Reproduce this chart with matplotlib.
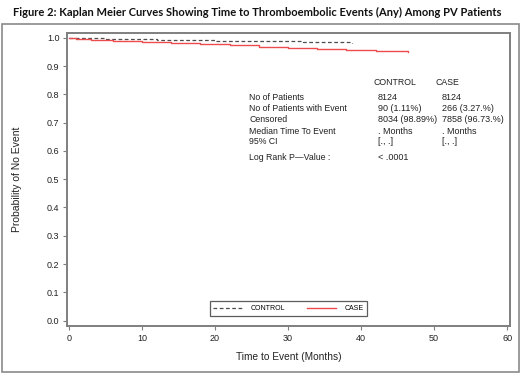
import numpy as np
import matplotlib.pyplot as plt
from matplotlib.patches import Rectangle

plt.rcParams['font.family'] = ['Liberation Sans', 'DejaVu Sans']

# Kaplan Meier estimates (months, survival)
control_t = [0, 2, 5, 8, 12, 16, 20, 24, 28, 32, 36, 38.8]
control_s = [1.0, 0.998, 0.996, 0.995, 0.993, 0.992, 0.990, 0.989, 0.987, 0.986, 0.984, 0.983]
case_t = [0, 1, 3, 6, 10, 14, 18, 22, 26, 30, 34, 38, 42, 46.4]
case_s = [1.0, 0.996, 0.993, 0.989, 0.985, 0.981, 0.977, 0.973, 0.969, 0.965, 0.961, 0.957, 0.953, 0.950]

x_ticks = [0, 10, 20, 30, 40, 50, 60]
y_ticks = [0.0, 0.1, 0.2, 0.3, 0.4, 0.5, 0.6, 0.7, 0.8, 0.9, 1.0]

# summary table
row_labels = ['No of Patients', 'No of Patients with Event', 'Censored',
              'Median Time To Event', '95% CI']
col_heads = ['CONTROL', 'CASE']
control_vals = ['8124', '90 (1.11%)', '8034 (98.89%)', '. Months', '[., .]']
case_vals = ['8124', '266 (3.27.%)', '7858 (96.73.%)', '. Months', '[., .]']
pval_label = 'Log Rank P\u2014Value :'
pval = '< .0001'

grey = '#7f7f7f'
txt = '#222222'

fig = plt.figure(figsize=(5.2, 3.73), dpi=100)
fig.patch.set_facecolor('white')

# outer frame around the chart
fig.patches.append(Rectangle((2/520, 1/373), 517/520, 348/373, transform=fig.transFigure,
                             fill=False, edgecolor='#8a8a8a', linewidth=1.2))

fig.text(0.5 - 3/520, 1 - 12/373, 'Figure 2: Kaplan Meier Curves Showing Time to Thromboembolic Events (Any) Among PV Patients',
         ha='center', va='center', fontsize=8.05, fontweight='bold', family='Lato', color='#111111')

ax = fig.add_axes([67/520, 47/373, 443/520, 293/373])
ax.step(control_t, control_s, where='post', color='#4d4d4d', linestyle=(0, (3, 2)),
        linewidth=0.9, label='CONTROL')
ax.step(case_t, case_s, where='post', color='#ee4c4c', linewidth=1.0, label='CASE')

ax.set_xlim(-0.27, 60.4)
ax.set_ylim(-0.019, 1.017)
ax.set_xticks(x_ticks)
ax.set_yticks(y_ticks)
ax.set_xticklabels([str(v) for v in x_ticks])
ax.set_yticklabels(['%.1f' % v for v in y_ticks])
ax.tick_params(labelsize=6.5, colors=grey, labelcolor=txt, length=3, width=0.8, pad=2.5)
for s in ax.spines.values():
    s.set_color(grey)
    s.set_linewidth(1.4)

ax.set_xlabel('Time to Event (Months)', fontsize=7.3, color=txt, labelpad=7)
ax.set_ylabel('Probability of No Event', fontsize=7.5, color=txt, labelpad=18)

# summary text block
fs_lab = 6.3
fs_val = 6.5
def px(x, y):
    return ((x - 67) / 443, (326 - y) / 293)

for head, xp in zip(col_heads, [373, 436]):
    ax.text(*px(xp, 82.5), head, transform=ax.transAxes, fontsize=fs_lab, color=txt, va='center')
row_y = [97, 108.5, 120, 131, 142]
for lab, cv, kv, yp in zip(row_labels, control_vals, case_vals, row_y):
    ax.text(*px(249, yp), lab, transform=ax.transAxes, fontsize=fs_lab, color=txt, va='center')
    ax.text(*px(378, yp), cv, transform=ax.transAxes, fontsize=fs_val, color=txt, va='center')
    ax.text(*px(442, yp), kv, transform=ax.transAxes, fontsize=fs_val, color=txt, va='center')
ax.text(*px(249, 158), pval_label, transform=ax.transAxes, fontsize=fs_lab, color=txt, va='center')
ax.text(*px(378, 158), pval, transform=ax.transAxes, fontsize=fs_val, color=txt, va='center')

leg = ax.legend(loc='lower center', bbox_to_anchor=(0.5, 0.034), ncol=2, fontsize=5,
                handlelength=4.2, handletextpad=1.2, columnspacing=3.1,
                frameon=True, fancybox=False, borderpad=0.55, borderaxespad=0)
leg.get_frame().set_edgecolor('#333333')
leg.get_frame().set_linewidth(0.9)

fig.savefig('out.png', dpi=100, facecolor='white')
